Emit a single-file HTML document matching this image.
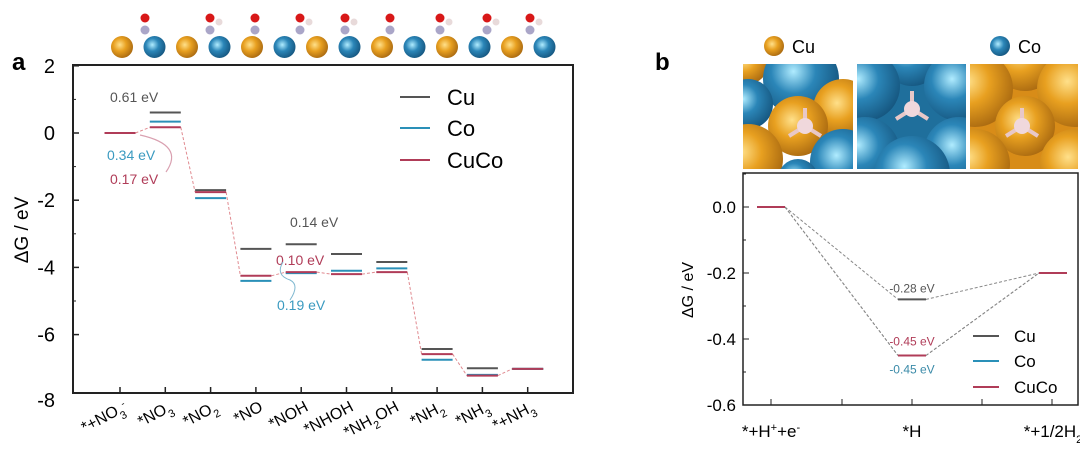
<!DOCTYPE html>
<html><head><meta charset="utf-8"><style>
html,body{margin:0;padding:0;background:#fff;width:1080px;height:460px;overflow:hidden}
svg{font-family:"Liberation Sans",sans-serif}
</style></head><body>
<svg id="s" width="1080" height="460" xmlns="http://www.w3.org/2000/svg">
<defs>
<radialGradient id="go" cx="40%" cy="40%" r="65%"><stop offset="0" stop-color="#ffe08a"/><stop offset="0.45" stop-color="#e8a020"/><stop offset="1" stop-color="#a86810"/></radialGradient>
<radialGradient id="gb" cx="40%" cy="40%" r="65%"><stop offset="0" stop-color="#b0ecff"/><stop offset="0.45" stop-color="#2b86b8"/><stop offset="1" stop-color="#15557e"/></radialGradient>
<clipPath id="c1"><rect x="743" y="64" width="110" height="105"/></clipPath>
<clipPath id="c2"><rect x="857" y="64" width="109" height="105"/></clipPath>
<clipPath id="c3"><rect x="970" y="64" width="108" height="105"/></clipPath>
</defs>
<text x="12" y="70" font-size="24" font-weight="bold">a</text>
<text x="655" y="70" font-size="24" font-weight="bold">b</text>
<g id="strip"></g>
<g id="tiles"></g>
<g id="A"></g>
<g id="B"></g>
</svg>
<script>
// Chart A data
const catsA = ["*+NO3-","*NO3","*NO2","*NO","*NOH","*NHOH","*NH2OH","*NH2","*NH3","*+NH3"];
const cuA   = [0, 0.61, -1.70, -3.45, -3.31, -3.60, -3.84, -6.43, -7.00, -7.02];
const coA   = [0, 0.34, -1.94, -4.40, -4.17, -4.10, -4.03, -6.75, -7.20, -7.02];
const cucoA = [0, 0.17, -1.76, -4.25, -4.14, -4.20, -4.14, -6.58, -7.22, -7.02];
const yTicksA = [2, 0, -2, -4, -6, -8];
// Chart B data
const catsB = ["*+H+e-","*H","*+1/2H2"];
const cuB   = [0, -0.28, -0.2];
const coB   = [0, -0.45, -0.2];
const cucoB = [0, -0.45, -0.2];
const yTicksB = [0.0, -0.2, -0.4, -0.6];

const NS="http://www.w3.org/2000/svg";
function mk(p,t,a){const e=document.createElementNS(NS,t);for(const k in a)e.setAttribute(k,a[k]);p.appendChild(e);return e;}
const CU="#555", CO="#2a90b8", CC="#b03c58";

// strip of atoms
const st=document.getElementById('strip');
for(let i=0;i<14;i++){
  const x=122+i*32.5;
  const c=mk(st,'circle',{cx:x,cy:47,r:11,fill:i%2?'url(#gb)':'url(#go)'});
  
  
}
[[145,1],[210,2],[255,1],[300,2],[345,2],[390,1],[440,2],[487,2],[530,2]].forEach(([x,n],i)=>{
  mk(st,'circle',{cx:x,cy:30,r:4.5,fill:'#aaa6c8'});
  mk(st,'circle',{cx:x,cy:18,r:4.5,fill:'#d81818'});
  if(n>1)mk(st,'circle',{cx:x+9,cy:22,r:3.5,fill:'#e8dada'});
});

// tiles
const tl=document.getElementById('tiles');
const tileDefs=[
 {x:743,c:'c1',bg:'#fff',s:[[5,0,20,'o'],[58,15,38,'b'],[5,40,25,'b'],[100,45,30,'o'],[55,62,30,'o'],[5,95,35,'o'],[100,98,33,'b'],[55,115,20,'b']],p:[62,62]},
 {x:857,c:'c2',bg:'#1f6f9c',s:[[55,-8,30,'b'],[8,22,35,'b'],[102,22,35,'b'],[8,88,35,'b'],[102,88,35,'b'],[55,110,38,'b']],p:[55,45]},
 {x:970,c:'c3',bg:'#d88c18',s:[[55,-5,32,'o'],[5,25,38,'o'],[105,25,38,'o'],[55,62,30,'o'],[5,100,35,'o'],[105,100,35,'o']],p:[52,62]}
];
tileDefs.forEach((d,i)=>{
  const g=mk(tl,'g',{'clip-path':`url(#${d.c})`});
  
  
  mk(g,'rect',{x:d.x,y:64,width:110,height:105,fill:d.bg});
  d.s.forEach(([dx,dy,r,t])=>mk(g,'circle',{cx:d.x+dx,cy:64+dy,r:r,fill:t==='o'?'url(#go)':'url(#gb)'}));
  const px=d.x+d.p[0],py=64+d.p[1];
  [[0,-18],[-16,10],[16,10]].forEach(([a,b])=>mk(g,'line',{x1:px,y1:py,x2:px+a,y2:py+b,stroke:'#e8c8c8','stroke-width':4}));
  mk(g,'circle',{cx:px,cy:py,r:8,fill:'#f0d8dc'});
});
mk(tl,'circle',{cx:774,cy:46,r:10,fill:'url(#go)'});
let t=mk(tl,'text',{x:792,y:53,'font-size':18});t.textContent='Cu';
mk(tl,'circle',{cx:1000,cy:46,r:10,fill:'url(#gb)'});
t=mk(tl,'text',{x:1018,y:53,'font-size':18});t.textContent='Co';

// ===== Chart A =====
const A=document.getElementById('A');
const xA=i=>120+i*45.3, yA=v=>133-33.6*v;
mk(A,'rect',{x:73,y:65,width:500,height:328,fill:'none',stroke:'#222','stroke-width':2});
yTicksA.forEach(v=>{
  const y=yA(v); if(y<=395){mk(A,'line',{x1:73,x2:79,y1:y,y2:y,stroke:'#222','stroke-width':1.5});}
  if(v!==2&&v!==-8)mk(A,'line',{x1:73,x2:76,y1:y-33.6,y2:y-33.6,stroke:'#222'});
  const tx=mk(A,'text',{x:55,y:Math.min(y,400)+7,'font-size':20,'text-anchor':'end'});
  tx.textContent=v;
  
  
});
t=mk(A,'text',{transform:'translate(28,230) rotate(-90)','font-size':19,'text-anchor':'middle'});t.textContent='ΔG / eV';

const labA=['*+NO<tspan baseline-shift="sub" font-size="11">3</tspan><tspan baseline-shift="super" font-size="10">-</tspan>','*NO<tspan baseline-shift="sub" font-size="11">3</tspan>','*NO<tspan baseline-shift="sub" font-size="11">2</tspan>','*NO','*NOH','*NHOH','*NH<tspan baseline-shift="sub" font-size="11">2</tspan>OH','*NH<tspan baseline-shift="sub" font-size="11">2</tspan>','*NH<tspan baseline-shift="sub" font-size="11">3</tspan>','*+NH<tspan baseline-shift="sub" font-size="11">3</tspan>'];
catsA.forEach((c,i)=>{
  const x=xA(i);
  mk(A,'line',{x1:x,x2:x,y1:393,y2:387,stroke:'#222','stroke-width':1.5});
  const tx=mk(A,'text',{transform:`translate(${x+8},${410}) rotate(-28)`,'font-size':16,'text-anchor':'end'});
  tx.innerHTML=labA[i];
  
  
});
for(let i=0;i<catsA.length-1;i++){
  const l=mk(A,'line',{x1:xA(i)+15.5,y1:yA(cucoA[i]),x2:xA(i+1)-15.5,y2:yA(cucoA[i+1]),stroke:'#e08a90','stroke-dasharray':'3,2','stroke-width':1});
  
  
}
[[cuA,CU,'cu'],[coA,CO,'co'],[cucoA,CC,'cuco']].forEach(([arr,col,n])=>{
  arr.forEach((v,i)=>{
    const l=mk(A,'line',{x1:xA(i)-15.5,x2:xA(i)+15.5,y1:yA(v),y2:yA(v),stroke:col,'stroke-width':2});
    
    
  });
});
[['Cu',CU,97],['Co',CO,128],['CuCo',CC,160]].forEach(([s,c,y])=>{
  mk(A,'line',{x1:400,x2:430,y1:y,y2:y,stroke:c,'stroke-width':2});
  const tx=mk(A,'text',{x:447,y:y+8,'font-size':22});tx.textContent=s;
  
  
});
[['0.61 eV',CU,110,102],['0.34 eV','#3a9ac0',107,160],['0.17 eV',CC,110,184],['0.14 eV',CU,290,227],['0.10 eV',CC,276,265],['0.19 eV','#3a9ac0',277,310]].forEach(([s,c,x,y])=>{
  const tx=mk(A,'text',{x:x,y:y,'font-size':14,fill:c});tx.textContent=s;
  
  
});
mk(A,'path',{d:'M140,135 Q185,145 166,172',fill:'none',stroke:'#d9a0b0','stroke-width':1.2});
mk(A,'path',{d:'M283,262 Q275,275 290,280 Q300,285 290,300',fill:'none',stroke:'#7fb8d0','stroke-width':1});

// ===== Chart B =====
const B=document.getElementById('B');
const xB=i=>771+i*141, yB=v=>207-330*v;
mk(B,'rect',{x:743,y:173,width:335,height:232,fill:'none',stroke:'#222','stroke-width':1.5});
yTicksB.forEach(v=>{
  const y=yB(v);
  mk(B,'line',{x1:743,x2:749,y1:y,y2:y,stroke:'#222'});
  mk(B,'line',{x1:743,x2:746,y1:y-33,y2:y-33,stroke:'#222'});
  const tx=mk(B,'text',{x:736,y:y+6,'font-size':17,'text-anchor':'end'});tx.textContent=v.toFixed(1);
  
  
});
[771,842,912,982,1052].forEach(x=>mk(B,'line',{x1:x,x2:x,y1:405,y2:399,stroke:'#222'}));
t=mk(B,'text',{transform:'translate(693,290) rotate(-90)','font-size':16,'text-anchor':'middle'});t.textContent='ΔG / eV';

const labB=['*+H<tspan baseline-shift="super" font-size="11">+</tspan>+e<tspan baseline-shift="super" font-size="11">-</tspan>','*H','*+1/2H<tspan baseline-shift="sub" font-size="11">2</tspan>'];
catsB.forEach((c,i)=>{
  const tx=mk(B,'text',{x:xB(i),y:437,'font-size':17,'text-anchor':'middle'});tx.innerHTML=labB[i];
  
  
});
[[cuB,CU,'cu'],[coB,CO,'co'],[cucoB,CC,'cuco']].forEach(([arr,col,n])=>{
  for(let i=0;i<arr.length-1;i++){
    mk(B,'line',{x1:xB(i)+14,y1:yB(arr[i]),x2:xB(i+1)-14,y2:yB(arr[i+1]),stroke:'#888','stroke-dasharray':'3,2','stroke-width':1});
  }
  arr.forEach((v,i)=>{
    const l=mk(B,'line',{x1:xB(i)-14,x2:xB(i)+14,y1:yB(v),y2:yB(v),stroke:col,'stroke-width':2});
    
    
  });
});
[['-0.28 eV',CU,yB(cuB[1])-7],['-0.45 eV',CC,yB(cucoB[1])-10],['-0.45 eV','#3a8aa8',yB(coB[1])+18]].forEach(([s,c,y])=>{
  const tx=mk(B,'text',{x:912,y:y,'font-size':12,fill:c,'text-anchor':'middle'});tx.textContent=s;
  
  
});
[['Cu',CU,336],['Co',CO,361],['CuCo',CC,387]].forEach(([s,c,y])=>{
  mk(B,'line',{x1:973,x2:999,y1:y,y2:y,stroke:c,'stroke-width':2});
  const tx=mk(B,'text',{x:1014,y:y+6,'font-size':17});tx.textContent=s;
  
  
});
</script>
</body></html>
